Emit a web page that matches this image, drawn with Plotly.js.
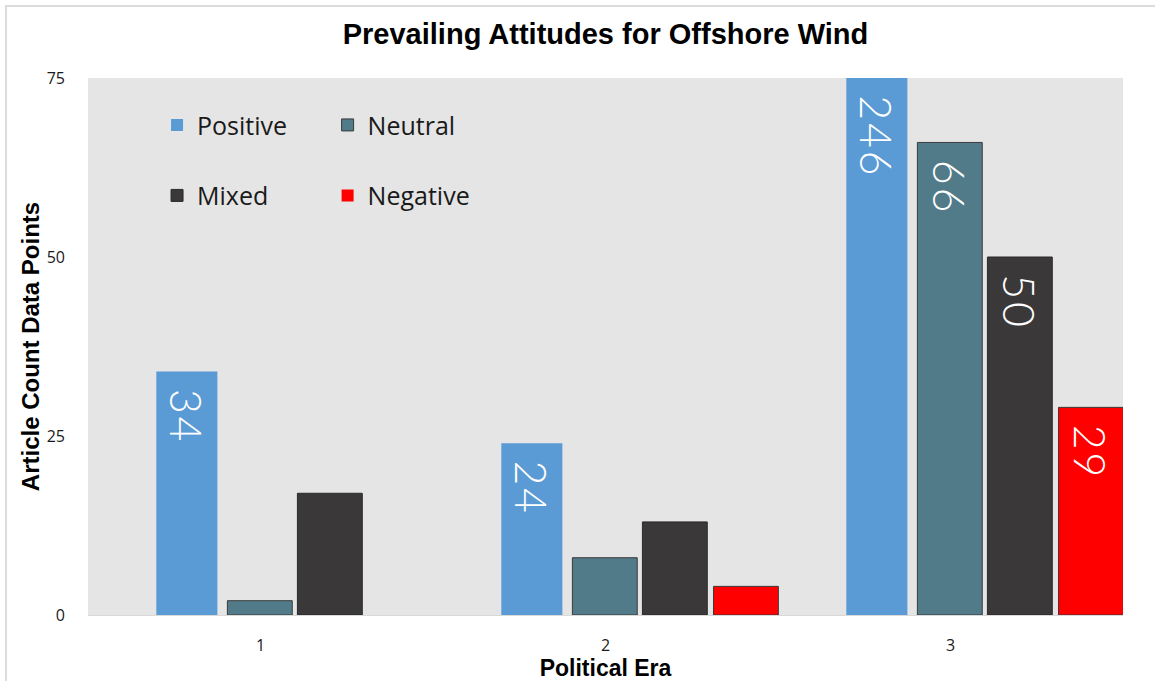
<!DOCTYPE html>
<html>
<head>
<meta charset="utf-8">
<script src="https://cdn.plot.ly/plotly-3.0.1.min.js"></script>
<style>
  html, body { margin: 0; padding: 0; background: #fff; }
  #wrap { position: relative; width: 1155px; height: 681px; }
  #chart { position: absolute; left: 0; top: 0; width: 1155px; height: 681px; }
  #frame { position: absolute; left: 5px; top: 5px; right: -2px; bottom: -2px;
           border-top: 2px solid #dcdcdc; border-left: 2px solid #dcdcdc; pointer-events: none; }
</style>
</head>
<body>
<div id="wrap">
  <div id="chart"></div>
  <div id="frame"></div>
</div>
<script>
// ---- data ----
const eras = [1, 2, 3];
const positive = [34, 24, 246];
const neutral  = [2, 8, 66];
const mixed    = [17, 13, 50];
const negative = [0, 4, 29];
const positiveLabels = ["34", "24", "246"];
const neutralLabels  = ["", "", "66"];
const mixedLabels    = ["", "", "50"];
const negativeLabels = ["", "", "29"];
const yTicks = [0, 25, 50, 75];
const yMax = 75;

const labelFont = { family: "Lato, 'Open Sans', sans-serif", size: 43, color: "#ffffff", weight: 300 };
const legendFont = { family: "'Open Sans', 'Noto Sans', sans-serif", size: 25, color: "#1a1a1a" };

function spaced(arr) { return arr.map(s => s ? "\u2004" + s.split("").join("\u200A") : ""); }

const series = [
  { name: "Positive", y: positive, labels: positiveLabels, color: "#5b9bd5", offset: -0.302, width: 0.177, line: "rgba(0,0,0,0)", legend: "legend", rank: 1 },
  { name: "Neutral",  y: neutral,  labels: neutralLabels,  color: "#517b88", offset: -0.096, width: 0.188, line: "#3a3a3a", legend: "legend2", rank: 1 },
  { name: "Mixed",    y: mixed,    labels: mixedLabels,    color: "#3a3839", offset:  0.107, width: 0.188, line: "#2a2a2a", legend: "legend", rank: 2 },
  { name: "Negative", y: negative, labels: negativeLabels, color: "#ff0000", offset:  0.313, width: 0.188, line: "#3a3a3a", legend: "legend2", rank: 2 }
];

const traces = [];
series.forEach(s => {
  traces.push({
    type: "bar", name: s.name, x: eras, y: s.y,
    offset: s.offset, width: s.width,
    marker: { color: s.color, line: { color: s.line, width: s.y.map(v => v > 0 ? 1 : 0) } },
    legend: s.legend, legendgroup: s.name, legendrank: s.rank,
    cliponaxis: true, textposition: "none"
  });
});
// value labels, drawn inside the visible part of each bar
series.forEach(s => {
  traces.push({
    type: "bar", name: s.name + " labels", x: eras, y: s.y.map(v => Math.min(v, yMax)),
    offset: s.offset, width: s.width,
    marker: { color: "rgba(0,0,0,0)", line: { width: 0 } },
    text: spaced(s.labels), textposition: "inside", insidetextanchor: "end",
    textangle: 90, textfont: labelFont, constraintext: "none",
    showlegend: false, cliponaxis: false
  });
});

const layout = {
  width: 1155, height: 681,
  margin: { l: 88, r: 32, t: 78, b: 66 },
  paper_bgcolor: "#ffffff", plot_bgcolor: "#e5e5e5",
  barmode: "overlay",
  font: { family: "'Open Sans', 'Noto Sans', sans-serif", color: "#1a1a1a" },
  title: {
    text: "Prevailing Attitudes for Offshore Wind",
    font: { family: "'Liberation Sans', Arial, sans-serif", size: 29, color: "#000", weight: "bold" },
    x: 0.5, xanchor: "center", y: 0.951, yanchor: "middle", xref: "paper", yref: "container"
  },
  xaxis: {
    range: [0.5, 3.5], tickvals: eras, ticktext: eras.map(String),
    showgrid: false, zeroline: false, showline: true, linecolor: "#d9d9d9", linewidth: 1,
    ticks: "", ticklabelstandoff: 16,
    tickfont: { size: 16, color: "#1a1a1a" },
    title: { text: "Political Era", standoff: 6,
             font: { family: "'Liberation Sans', Arial, sans-serif", size: 23, color: "#000", weight: "bold" } }
  },
  yaxis: {
    range: [0, yMax], tickvals: yTicks, ticktext: yTicks.map(String),
    showgrid: false, zeroline: false, showline: false, ticks: "",
    ticklabelstandoff: 22,
    tickfont: { size: 16, color: "#1a1a1a" },
    title: { text: "Article Count Data Points", standoff: 0,
             font: { family: "'Liberation Sans', Arial, sans-serif", size: 24, color: "#000", weight: "bold" } }
  },
  legend: {
    x: 0.0667, y: 0.955, xanchor: "left", yanchor: "top", xref: "paper", yref: "paper",
    orientation: "v", bgcolor: "rgba(0,0,0,0)", font: legendFont,
    tracegroupgap: 35, itemwidth: 30, traceorder: "grouped"
  },
  legend2: {
    x: 0.2315, y: 0.955, xanchor: "left", yanchor: "top", xref: "paper", yref: "paper",
    orientation: "v", bgcolor: "rgba(0,0,0,0)", font: legendFont,
    tracegroupgap: 35, itemwidth: 30, traceorder: "grouped"
  },
  showlegend: true
};

Plotly.newPlot("chart", traces, layout, { displayModeBar: false, staticPlot: true });
</script>
</body>
</html>
